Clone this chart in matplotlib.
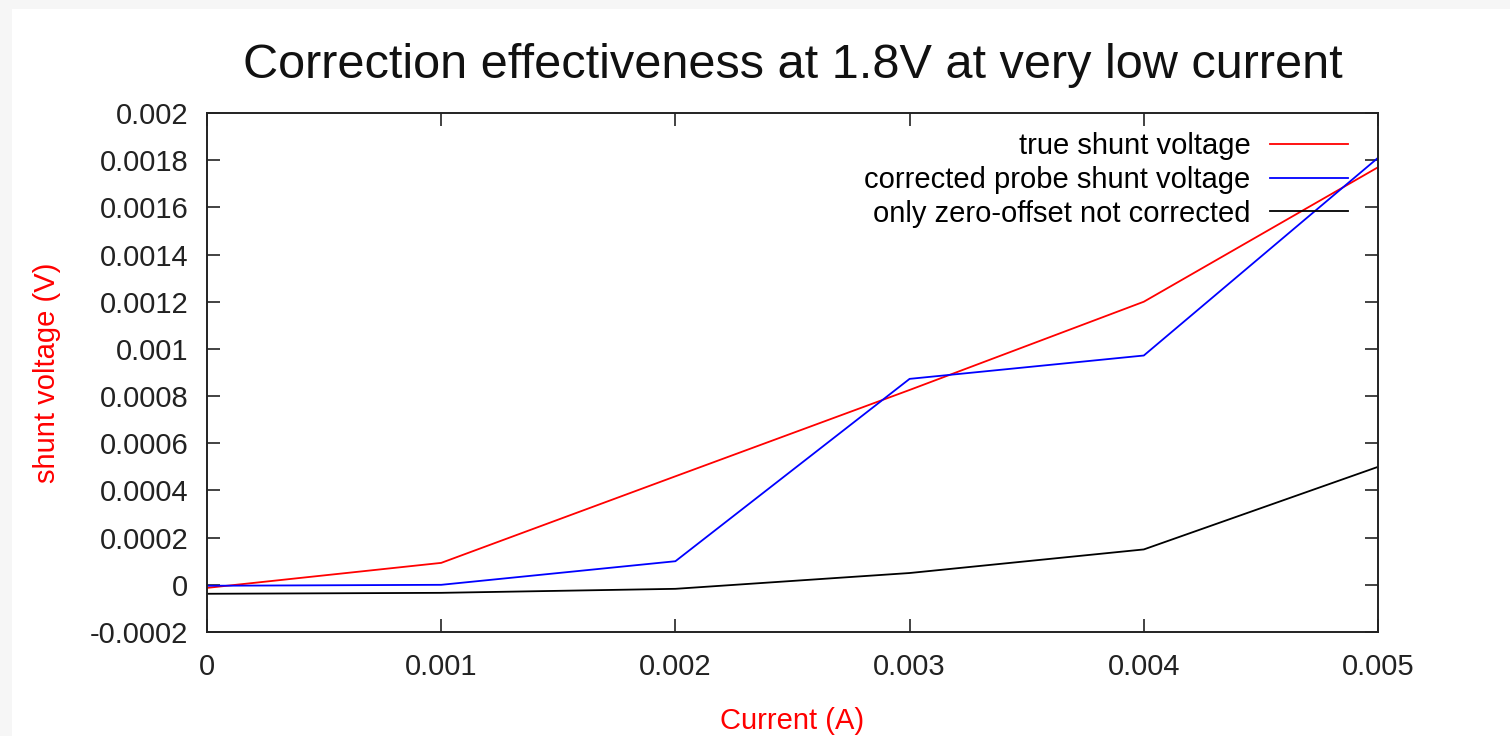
import numpy as np
import matplotlib.pyplot as plt
from matplotlib.patches import Rectangle
from matplotlib.ticker import FuncFormatter, MultipleLocator

plt.rcParams['font.family'] = ['Liberation Sans', 'DejaVu Sans']

# Data
current = [0.0, 0.001, 0.002, 0.003, 0.004, 0.005]
true_shunt = [-0.000013, 0.000093, 0.00046, 0.000826, 0.0012, 0.00177]
corrected_probe = [-0.000004, 0.0, 0.0001, 0.000873, 0.000972, 0.00181]
zero_offset_only = [-0.000038, -0.000034, -0.000017, 0.00005, 0.00015, 0.0005]

fig = plt.figure(figsize=(15.1, 7.36), dpi=100, facecolor='#f6f6f6')
# white page area (thin grey strip on left/top like the screenshot)
fig.patches.append(Rectangle((12 / 1510, 0), 1, 1 - 9 / 736, transform=fig.transFigure,
                             facecolor='white', edgecolor='none', zorder=-10))

ax = fig.add_axes([207 / 1510, 1 - 632 / 736, (1378 - 207) / 1510, (632 - 113) / 736])
ax.set_zorder(1)

ax.plot(current, true_shunt, color='#ff0000', lw=1.3, label='true shunt voltage')
ax.plot(current, corrected_probe, color='#0000ff', lw=1.3, label='corrected probe shunt voltage')
ax.plot(current, zero_offset_only, color='#000000', lw=1.3, label='only zero-offset not corrected')

ax.set_xlim(0, 0.005)
ax.set_ylim(-0.0002, 0.002)
ax.xaxis.set_major_locator(MultipleLocator(0.001))
ax.yaxis.set_major_locator(MultipleLocator(0.0002))
fmt = FuncFormatter(lambda v, pos: f'{round(v, 6):g}')
ax.xaxis.set_major_formatter(fmt)
ax.yaxis.set_major_formatter(fmt)

ax.tick_params(direction='in', length=9.5, width=1.2, top=True, right=True,
               labelsize=21, colors='#222222')
ax.tick_params(axis='x', pad=15)
ax.tick_params(axis='y', pad=13.5)
for s in ax.spines.values():
    s.set_linewidth(1.4)
    s.set_color('#222222')

ax.set_title('Correction effectiveness at 1.8V at very low current',
             fontsize=35, color='#111111', pad=25)
ax.set_xlabel('Current (A)', color='#ff0000', fontsize=21)
ax.set_ylabel('shunt voltage (V)', color='#ff0000', fontsize=21)
ax.xaxis.set_label_coords(0.5, (632 - 707) / 519)
ax.yaxis.set_label_coords((61 - 207) / 1171, 0.5)

ax.legend(loc='upper right', frameon=False, markerfirst=False, fontsize=21,
          handlelength=2.67, handletextpad=0.68, labelspacing=0.2,
          borderaxespad=0, borderpad=0,
          bbox_to_anchor=((1348 - 207) / 1171, (632 - 132) / 519))

fig.savefig('out.png', dpi=100, facecolor=fig.get_facecolor())
